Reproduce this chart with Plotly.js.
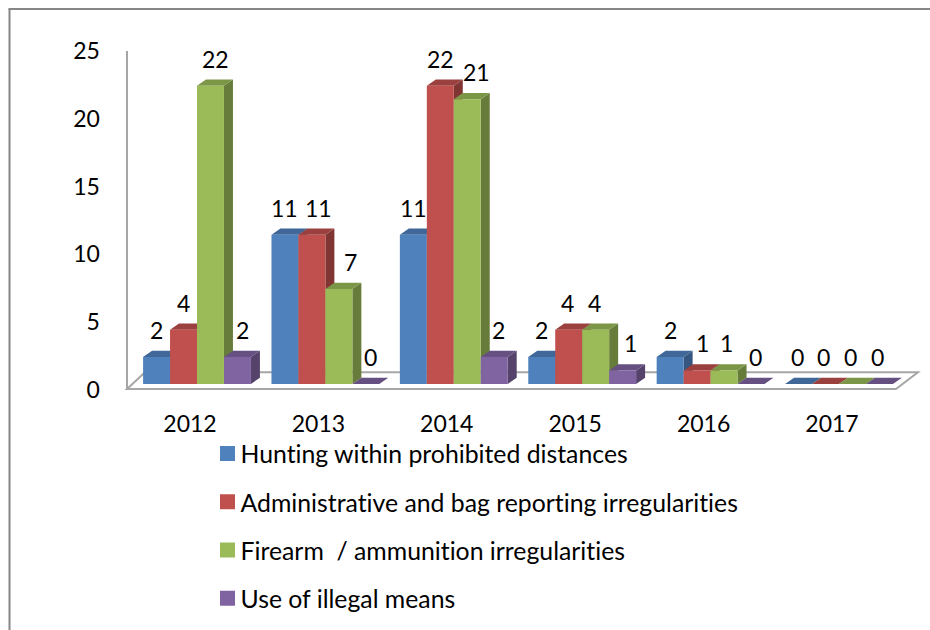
<!DOCTYPE html>
<html>
<head>
<meta charset="utf-8">
<script src="https://cdn.plot.ly/plotly-3.0.1.min.js"></script>
<style>
html,body{margin:0;padding:0;background:#fff}
#chart{width:930px;height:630px}
#chart text{font-variant-ligatures:none !important;font-feature-settings:"liga" 0,"clig" 0 !important}
</style>
</head>
<body>
<div id="chart"></div>
<script>
// Infractions per year, by type
const years = [2012, 2013, 2014, 2015, 2016, 2017];
const hunting = [2, 11, 11, 2, 2, 0];
const administrative = [4, 11, 22, 4, 1, 0];
const firearm = [22, 7, 21, 4, 1, 0];
const illegalMeans = [2, 0, 2, 1, 0, 0];

const seriesNames = [
  'Hunting within prohibited distances',
  'Administrative and bag reporting irregularities',
  'Firearm  / ammunition irregularities',
  'Use of illegal means'
];
const seriesValues = [hunting, administrative, firearm, illegalMeans];

const frontColors = ['#4F81BD', '#C0504D', '#9BBB59', '#8064A2'];
const topColors = ['#3F6797', '#9A403E', '#7C9647', '#665082'];
const sideColors = ['#355680', '#803533', '#677C3B', '#55436C'];

// Sideways nudges (px) that keep value labels clear of the neighbouring columns
const labelNudges = [
  [0, 0, 0, 0, 0, -1.5],
  [0, 7, 0, -1.5, 5, -1.5],
  [5.5, 12, 9, -1.5, 2.5, -1.5],
  [5.5, 4.5, 4, 7.5, 4.5, -1.5]
];

const W = 930, H = 630;
const FONT = 'Lato, "Open Sans", sans-serif';
const NUM_SIZE = 23, LEGEND_SIZE = 24.8;
const BAR_GAP = 0.16;
const SLOT = (1 - BAR_GAP) / seriesValues.length;
const DEPTH_X = 0.07;    // oblique depth of a column, in years
const DEPTH_Y = 0.46;    // and in counts

// Axis windows, expressed as page fractions
const xDomain = [100 / W, 925 / W];
const xRange = [2011.2445, 2017.67];
const yDomain = [(H - 404) / H, (H - 45) / H];
const yRange = [-1.475, 25];
// Year labels sit a little left of their column groups
const labelShift = 0.0545;

const slotLeft = (yearIdx, s) => years[yearIdx] - (1 - BAR_GAP) / 2 + s * SLOT;

// Oblique faces behind the front plane of every column
function depthFaces(s) {
  const side = { x: [], y: [] }, top = { x: [], y: [] };
  seriesValues[s].forEach((v, i) => {
    const l = slotLeft(i, s), r = l + SLOT;
    if (v > 0) {
      side.x.push(r, r + DEPTH_X, r + DEPTH_X, r, r, null);
      side.y.push(0, DEPTH_Y, v + DEPTH_Y, v, 0, null);
    }
    top.x.push(l, r, r + DEPTH_X, l + DEPTH_X, l, null);
    top.y.push(v, v, v + DEPTH_Y, v + DEPTH_Y, v, null);
  });
  return [side, top];
}

const traces = [];
seriesValues.forEach((_, s) => {
  const [side, top] = depthFaces(s);
  [[side, sideColors[s]], [top, topColors[s]]].forEach(([face, color]) => {
    traces.push({
      type: 'scatter', mode: 'lines', x: face.x, y: face.y,
      fill: 'toself', fillcolor: color, line: { width: 0, color: color },
      hoverinfo: 'skip', showlegend: false
    });
  });
});

// Front faces, overlaid on the depth faces
seriesValues.forEach((vals, s) => {
  traces.push({
    type: 'bar', x: years, y: vals, name: seriesNames[s],
    xaxis: 'x2', yaxis: 'y2', legendgroup: 'g' + s,
    marker: { color: frontColors[s], line: { width: 0 } }
  });
});

// Carrier for the year labels and the value axis on the front edge of the floor
traces.push({
  type: 'scatter', mode: 'lines', x: [null], y: [null], xaxis: 'x3', yaxis: 'y3',
  hoverinfo: 'skip', showlegend: false
});

const annotations = [];
seriesValues.forEach((vals, s) => {
  vals.forEach((v, i) => {
    annotations.push({
      x: slotLeft(i, s) + SLOT / 2, y: v, xref: 'x', yref: 'y',
      text: String(v), showarrow: false, xanchor: 'center', yanchor: 'middle',
      xshift: labelNudges[s][i], yshift: 27,
      font: { family: FONT, size: NUM_SIZE, color: '#000' }
    });
  });
});

// Floor of the oblique box, in axis units
const floorY = -0.37, floorBackY = 0.86;
const floorPath = [
  ['M', 2011.455, floorY], ['L', 2017.444, floorY],
  ['L', 2017.615, floorBackY], ['L', 2011.595, floorBackY]
].map(p => p[0] + p[1] + ',' + p[2]).join(' ') + ' Z';

const shapes = [
  { type: 'path', xref: 'x', yref: 'y', path: floorPath, layer: 'below',
    fillcolor: '#fff', line: { color: '#A6A6A6', width: 2 } },
  // Chart frame: left and top edges
  { type: 'line', xref: 'paper', yref: 'paper', x0: 9.5 / W, x1: 9.5 / W, y0: 0, y1: (H - 9) / H,
    line: { color: '#868686', width: 2 } },
  { type: 'line', xref: 'paper', yref: 'paper', x0: 8.5 / W, x1: 1, y0: (H - 9) / H, y1: (H - 9) / H,
    line: { color: '#868686', width: 2 } }
];

const layout = {
  width: W, height: H,
  margin: { l: 0, r: 0, t: 0, b: 0, pad: 0 },
  paper_bgcolor: '#fff', plot_bgcolor: 'rgba(0,0,0,0)',
  font: { family: FONT, size: NUM_SIZE, color: '#000' },
  barmode: 'group', bargap: BAR_GAP, bargroupgap: 0,
  xaxis: {
    domain: xDomain, range: xRange, type: 'linear', anchor: 'y', visible: false, fixedrange: true
  },
  yaxis: {
    domain: yDomain, range: yRange, type: 'linear', anchor: 'x', visible: false, fixedrange: true
  },
  xaxis2: {
    overlaying: 'x', anchor: 'y2', range: xRange, type: 'linear', visible: false, fixedrange: true
  },
  yaxis2: {
    overlaying: 'y', anchor: 'x2', range: yRange, type: 'linear', visible: false, fixedrange: true
  },
  xaxis3: {
    overlaying: 'x', anchor: 'y', type: 'linear',
    range: [xRange[0] + labelShift, xRange[1] + labelShift],
    tickmode: 'array', tickvals: years, ticktext: years.map(String),
    showgrid: false, zeroline: false, showline: false, ticks: '',
    ticklabelstandoff: 4, tickfont: { family: FONT, size: NUM_SIZE, color: '#000' },
    fixedrange: true
  },
  yaxis3: {
    domain: [(H - 390) / H, (H - 51) / H], range: [0, 25], type: 'linear',
    anchor: 'free', position: 126.5 / W, side: 'left',
    tickmode: 'array', tickvals: [0, 5, 10, 15, 20, 25],
    showgrid: false, zeroline: false, showline: true,
    linecolor: '#A6A6A6', linewidth: 2, ticks: '',
    ticklabelstandoff: 21, tickfont: { family: FONT, size: NUM_SIZE, color: '#000' },
    fixedrange: true
  },
  showlegend: true,
  legend: {
    x: 200.5 / W, xanchor: 'left', y: (H - 431) / H, yanchor: 'top',
    orientation: 'v', traceorder: 'grouped', tracegroupgap: 13,
    bgcolor: 'rgba(0,0,0,0)', borderwidth: 0,
    font: { family: FONT, size: LEGEND_SIZE, color: '#000' }
  },
  shapes: shapes,
  annotations: annotations
};

Plotly.newPlot('chart', traces, layout, { displayModeBar: false, responsive: false, staticPlot: true }).then(() => {
  // Larger square swatches, set closer to the legend text
  document.querySelectorAll('#chart .legendpoints path').forEach(p => {
    p.setAttribute('d', 'M7.5,7.5H-7.5V-7.5H7.5Z');
    p.setAttribute('transform', 'translate(27,0)');
  });
});
</script>
</body>
</html>
